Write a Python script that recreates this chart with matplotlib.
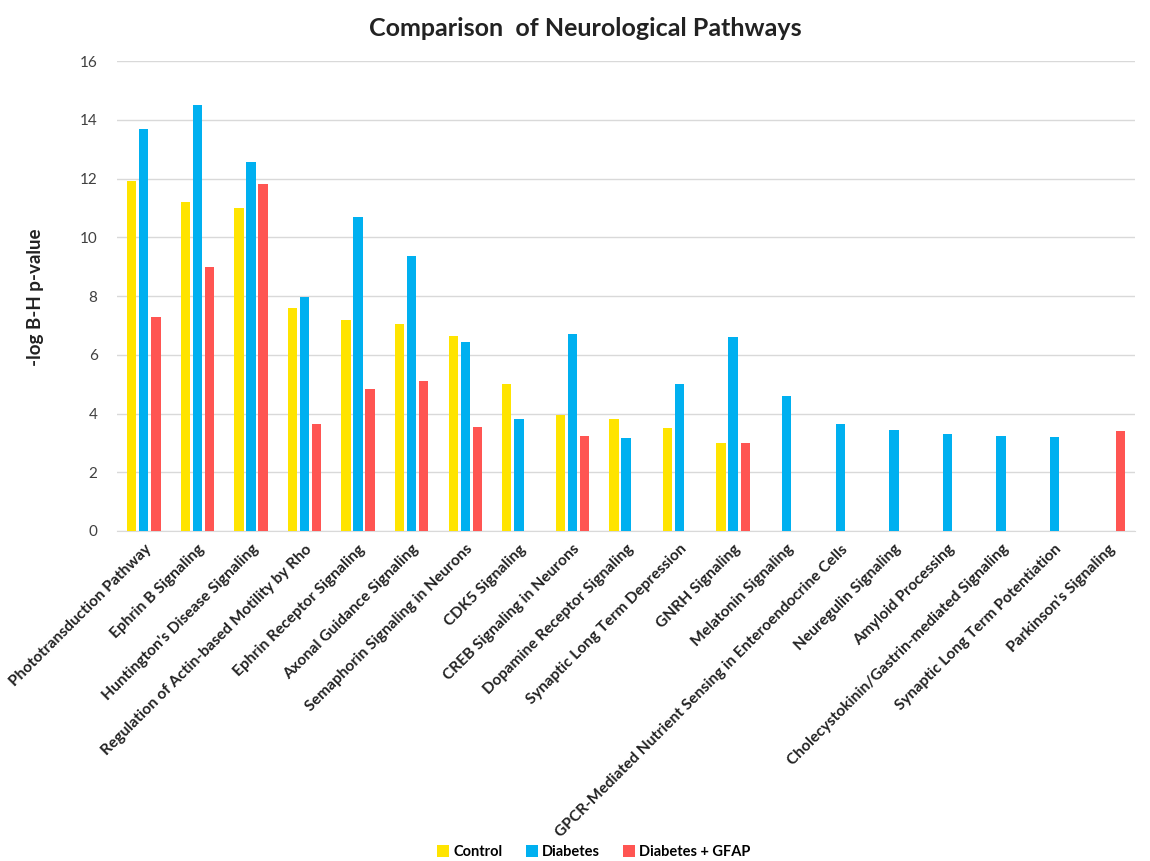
import matplotlib
matplotlib.use("Agg")
import matplotlib.pyplot as plt
import numpy as np

categories = [
    "Phototransduction Pathway", "Ephrin B Signaling", "Huntington's Disease Signaling",
    "Regulation of Actin-based Motility by Rho", "Ephrin Receptor Signaling",
    "Axonal Guidance Signaling", "Semaphorin Signaling in Neurons", "CDK5 Signaling",
    "CREB Signaling in Neurons", "Dopamine Receptor Signaling",
    "Synaptic Long Term Depression", "GNRH Signaling", "Melatonin Signaling",
    "GPCR-Mediated Nutrient Sensing in Enteroendocrine Cells", "Neuregulin Signaling",
    "Amyloid Processing", "Cholecystokinin/Gastrin-mediated Signaling",
    "Synaptic Long Term Potentiation", "Parkinson's Signaling",
]
control = [11.9, 11.2, 11.0, 7.6, 7.2, 7.05, 6.65, 5.0, 3.95, 3.8, 3.5, 3.0,
           0, 0, 0, 0, 0, 0, 0]
diabetes = [13.7, 14.5, 12.55, 7.95, 10.7, 9.35, 6.45, 3.8, 6.7, 3.15, 5.0, 6.6,
            4.6, 3.65, 3.45, 3.3, 3.25, 3.2, 0]
diabetes_gfap = [7.3, 9.0, 11.8, 3.65, 4.85, 5.1, 3.55, 0, 3.25, 0, 0, 3.0,
                 0, 0, 0, 0, 0, 0, 3.4]
series_names = ["Control", "Diabetes", "Diabetes + GFAP"]
colors = ["#FFE400", "#00B0F0", "#FF5552"]

plt.rcParams['font.family'] = ['Lato', 'DejaVu Sans']

fig = plt.figure(figsize=(11.5, 8.61), dpi=100)
ax = fig.add_axes([117/1150, 1 - 531/861, (1135-117)/1150, (531-61)/861])

x = np.arange(len(categories))
step = 0.225
width = 0.175
for i, (vals, name, c) in enumerate(zip([control, diabetes, diabetes_gfap], series_names, colors)):
    ax.bar(x + (i - 1) * step, vals, width=width, color=c, label=name, zorder=3)

ax.set_xlim(-0.5, len(categories) - 0.5)
ax.set_ylim(0, 16)
ax.set_yticks(np.arange(0, 17, 2))
ax.grid(axis='y', color='#d9d9d9', linewidth=1, zorder=0)
for s in ['top', 'right', 'left']:
    ax.spines[s].set_visible(False)
ax.spines['bottom'].set_color('#d9d9d9')
ax.tick_params(axis='both', length=0)
ax.tick_params(axis='y', labelsize=11, colors='#404040', pad=14)
ax.set_xticks(x)
ax.set_xticklabels(categories, rotation=45, ha='right', rotation_mode='anchor',
                   fontsize=11.2, fontweight='bold', color='#222222')
ax.tick_params(axis='x', pad=8)

fig.text(36/1150, 1 - 297/861, "-log B-H p-value", rotation=90, ha='center', va='center',
         fontsize=13.5, fontweight='bold', color='#222222')
fig.text(585/1150, 1 - 28/861, "Comparison  of Neurological Pathways", ha='center', va='center',
         fontsize=18, fontweight='bold', color='#222222')

leg = fig.legend(loc='center', bbox_to_anchor=(594/1150, 1 - 852/861), ncol=3, frameon=False,
                 prop={'weight': 'bold', 'size': 10.5}, handlelength=0.8, handleheight=0.8,
                 handletextpad=0.3, columnspacing=1.6)

fig.savefig("out.png", dpi=100)
